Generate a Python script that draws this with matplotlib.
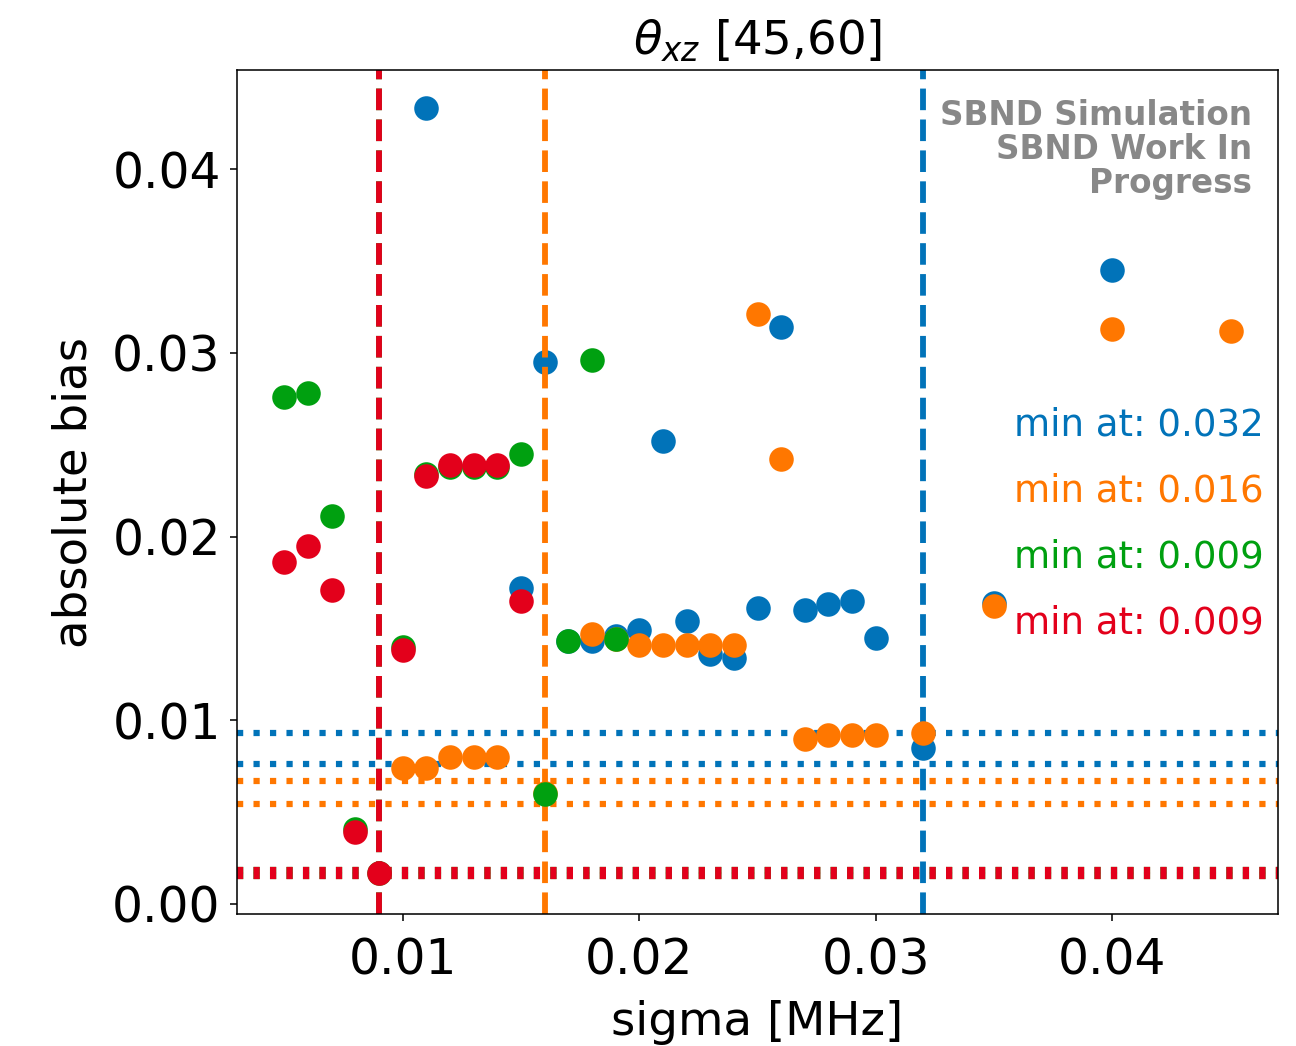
import numpy as np
import matplotlib.pyplot as plt
plt.close()

# absolute bias vs sigma for the four reconstruction variants
blue_sigma = [0.011, 0.015, 0.016, 0.017, 0.018, 0.019, 0.020, 0.021, 0.022, 0.023,
              0.024, 0.025, 0.026, 0.027, 0.028, 0.029, 0.030, 0.032, 0.035, 0.040]
blue_bias = [0.0433, 0.0172, 0.0295, 0.0143, 0.0143, 0.0146, 0.0149, 0.0252, 0.0154, 0.0136,
             0.0134, 0.0161, 0.0314, 0.0160, 0.0163, 0.0165, 0.0145, 0.00848, 0.0164, 0.0345]

orange_sigma = [0.010, 0.011, 0.012, 0.013, 0.014, 0.016, 0.018, 0.019, 0.020, 0.021, 0.022,
                0.023, 0.024, 0.025, 0.026, 0.027, 0.028, 0.029, 0.030, 0.032, 0.035, 0.040, 0.045]
orange_bias = [0.0074, 0.0074, 0.0080, 0.0080, 0.0080, 0.00606, 0.0147, 0.0144, 0.0141, 0.0141, 0.0141,
               0.0141, 0.0141, 0.0321, 0.0242, 0.0090, 0.0092, 0.0092, 0.0092, 0.0093, 0.0162, 0.0313, 0.0312]

green_sigma = [0.005, 0.006, 0.007, 0.008, 0.009, 0.010, 0.011, 0.012, 0.013, 0.014,
               0.015, 0.016, 0.017, 0.018, 0.019]
green_bias = [0.0276, 0.0278, 0.0211, 0.0041, 0.0017, 0.0140, 0.0234, 0.0238, 0.0238, 0.0238,
              0.0245, 0.00598, 0.0143, 0.0296, 0.0144]

red_sigma = [0.005, 0.006, 0.007, 0.008, 0.009, 0.010, 0.011, 0.012, 0.013, 0.014, 0.015]
red_bias = [0.0186, 0.0195, 0.0171, 0.0039, 0.0017, 0.0138, 0.0233, 0.0239, 0.0239, 0.0239, 0.0165]

colors = ['#0173b9', '#ff7700', '#00a010', '#e3001b']
series = [(blue_sigma, blue_bias), (orange_sigma, orange_bias),
          (green_sigma, green_bias), (red_sigma, red_bias)]

fig = plt.figure(figsize=(1296 / 140, 1046 / 140), dpi=140)
ax = fig.add_axes([0.183, 0.126, 0.803, 0.807])

text_y = [0.579, 0.501, 0.423, 0.345]
for (sig, bias), c, ty in zip(series, colors, text_y):
    sig = np.array(sig)
    bias = np.array(bias)
    ax.scatter(sig, bias, s=135, color=c, zorder=2)
    i = np.argmin(bias)
    ax.axvline(sig[i], color=c, ls='--', lw=3, zorder=2)
    # +-10% band around the minimum
    for f in (1.1, 0.9):
        ax.axhline(bias[i] * f, color=c, ls=':', lw=3.2, zorder=2)
    ax.text(0.986, ty, f'min at: {sig[i]:.3f}', color=c, fontsize=19,
            ha='right', va='center', transform=ax.transAxes)

ax.text(0.975, 0.966, 'SBND Simulation\nSBND Work In\nProgress', color='#888888',
        fontsize=16.8, fontweight='bold', ha='right', va='top',
        linespacing=1.05, transform=ax.transAxes)

ax.set_xticks([0.01, 0.02, 0.03, 0.04])
ax.set_yticks([0.0, 0.01, 0.02, 0.03, 0.04])
ax.tick_params(labelsize=25)
ax.tick_params(axis='x', pad=8)
ax.tick_params(axis='y', pad=5)
ax.set_xlabel('sigma [MHz]', fontsize=24, labelpad=8)
ax.set_ylabel('absolute bias', fontsize=24, labelpad=8)
ax.set_title(r'$\theta_{xz}$ [45,60]', fontsize=24, pad=8)

plt.savefig('out.png', dpi=140)
plt.close()
